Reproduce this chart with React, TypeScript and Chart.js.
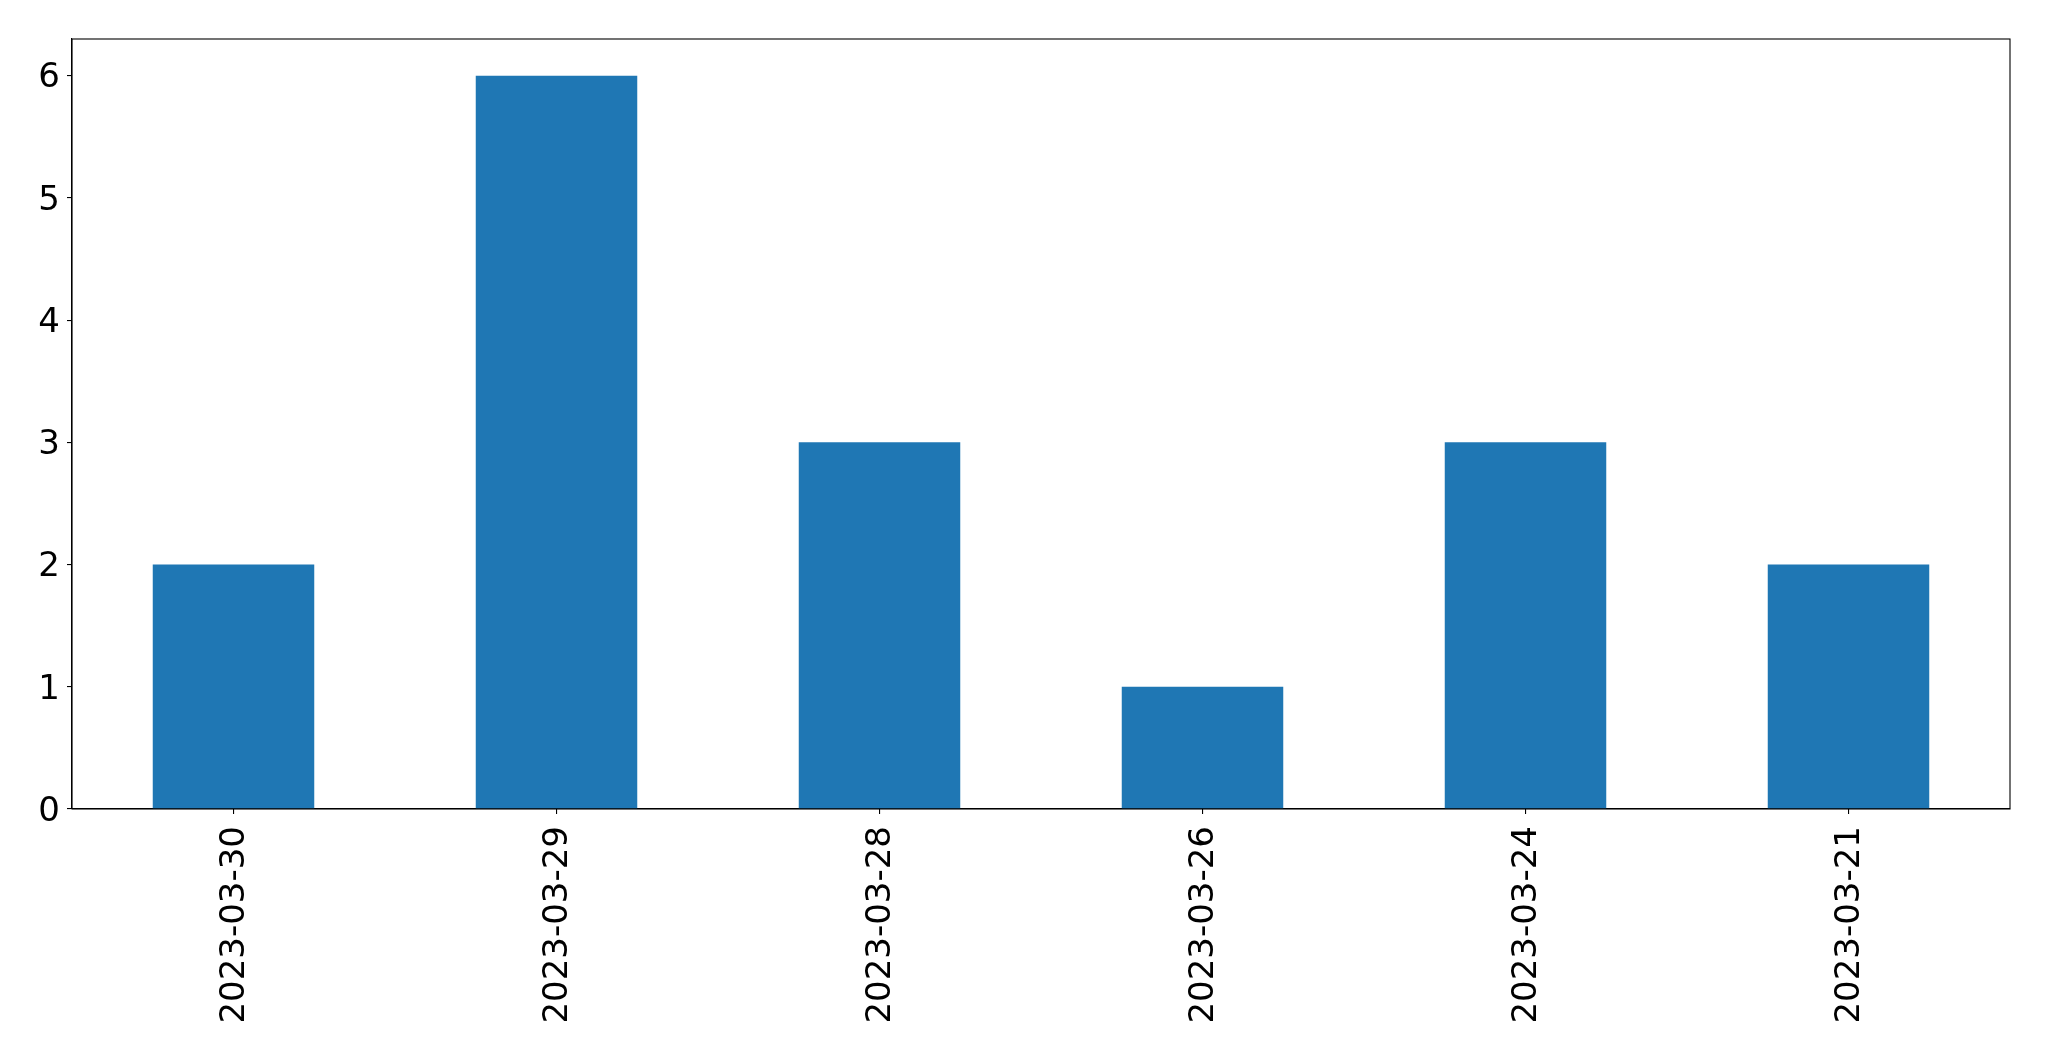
import React, { useEffect, useRef } from "react";
import { Chart, registerables } from "chart.js";

Chart.register(...registerables);

const categories: string[] = ["2023-03-30", "2023-03-29", "2023-03-28", "2023-03-26", "2023-03-24", "2023-03-21"];
const counts: number[] = [2, 6, 3, 1, 3, 2];
const yTicks: number[] = [0, 1, 2, 3, 4, 5, 6];
const yMax = 6.3;

const W = 2049;
const H = 1061;
const PLOT_LEFT = 72;
const PLOT_TOP = 39;
const PLOT_RIGHT = 2010;
const PLOT_BOTTOM = 809;

const framePlugin = {
  id: "frame",
  afterDatasetsDraw(chart: any) {
    const { ctx, chartArea } = chart;
    ctx.save();
    ctx.strokeStyle = "#000";
    ctx.lineWidth = 1.1;
    ctx.strokeRect(chartArea.left, chartArea.top, chartArea.right - chartArea.left, chartArea.bottom - chartArea.top);
    ctx.restore();
  },
};

export default function App() {
  const ref = useRef<HTMLCanvasElement | null>(null);
  useEffect(() => {
    if (!ref.current) return;
    const font = { family: "DejaVu Sans", size: 34 };
    const chart = new Chart(ref.current, {
      type: "bar",
      data: {
        labels: categories,
        datasets: [
          {
            data: counts,
            backgroundColor: "#1f77b4",
            borderWidth: 0,
            barPercentage: 0.5,
            categoryPercentage: 1,
          },
        ],
      },
      options: {
        responsive: false,
        animation: false,
        devicePixelRatio: 1,
        layout: { padding: { left: 0, top: PLOT_TOP, right: W - PLOT_RIGHT, bottom: 0 } },
        plugins: { legend: { display: false }, tooltip: { enabled: false } },
        scales: {
          x: {
            offset: true,
            grid: { display: true, drawOnChartArea: false, drawTicks: true, tickLength: 5, tickColor: "#000", offset: false, lineWidth: 1.1 },
            border: { display: true, color: "#000", width: 1.1 },
            ticks: { color: "#000", font, minRotation: 90, maxRotation: 90, padding: 12, autoSkip: false, labelOffset: 2 },
            afterFit: (s: any) => { s.height = H - PLOT_BOTTOM; },
          },
          y: {
            min: 0,
            max: yMax,
            grid: { display: true, drawOnChartArea: false, drawTicks: true, tickLength: 5, tickColor: "#000", lineWidth: 1.1 },
            border: { display: true, color: "#000", width: 1.1 },
            ticks: { color: "#000", font, padding: 7, labelOffset: 3 },
            afterBuildTicks: (s: any) => { s.ticks = yTicks.map((v) => ({ value: v })); },
            afterFit: (s: any) => { s.width = PLOT_LEFT; },
          },
        },
      },
      plugins: [framePlugin],
    });
    return () => chart.destroy();
  }, []);
  return (
    <div style={{ position: "fixed", left: 0, top: 0, width: W, height: H, background: "#fff" }}>
      <canvas ref={ref} width={W} height={H} style={{ display: "block", width: W, height: H }} />
    </div>
  );
}
